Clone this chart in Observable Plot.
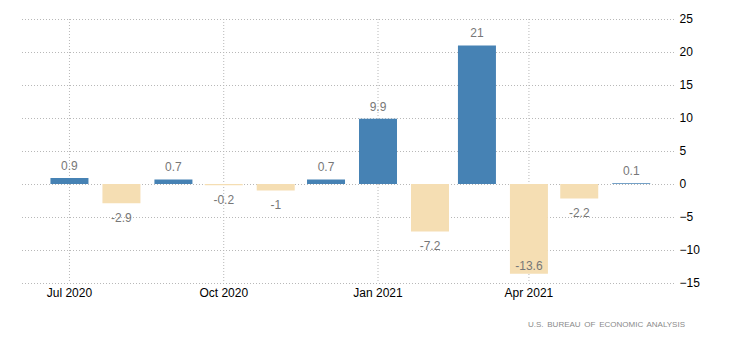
<!DOCTYPE html>
<html>
<head>
<meta charset="utf-8">
<script src="https://cdn.jsdelivr.net/npm/d3@7"></script>
<script src="https://cdn.jsdelivr.net/npm/@observablehq/plot@0.6"></script>
<style>
  html, body { margin: 0; padding: 0; background: #fff; }
  #wrap { position: relative; width: 730px; height: 341px; }
  #caption {
    position: absolute; right: 45px; top: 320px;
    font-family: "Liberation Sans", Arial, sans-serif; font-size: 8px;
    letter-spacing: 0px; word-spacing: 1.5px; color: #8a8a8a; white-space: nowrap;
  }
</style>
</head>
<body>
<div id="wrap">
  <div id="chart"></div>
  <div id="caption">U.S. BUREAU OF ECONOMIC ANALYSIS</div>
</div>
<script>
const months = ["2020-07-01","2020-08-01","2020-09-01","2020-10-01","2020-11-01","2020-12-01",
                "2021-01-01","2021-02-01","2021-03-01","2021-04-01","2021-05-01","2021-06-01"];
const values = [0.9, -2.9, 0.7, -0.2, -1, 0.7, 9.9, -7.2, 21, -13.6, -2.2, 0.1];
const xTickDates = ["2020-07-01","2020-10-01","2021-01-01","2021-04-01"];
const yTicks = [-15, -10, -5, 0, 5, 10, 15, 20, 25];
const xDomain = ["2020-06-03","2021-06-28"];

const data = months.map((m, i) => ({date: new Date(m), value: values[i]}));
const xt = xTickDates.map(d => new Date(d));
const fmt = d3.utcFormat("%b %Y");

const grid = {stroke: "#b8b8b8", strokeOpacity: 1, strokeDasharray: "1,2"};

const chart = Plot.plot({
  width: 730,
  height: 305,
  marginTop: 19,
  marginBottom: 22,
  marginLeft: 22,
  marginRight: 54,
  style: {fontFamily: "Liberation Sans, Arial, sans-serif", fontSize: "12px", background: "#fff"},
  x: {type: "utc", domain: xDomain.map(d => new Date(d))},
  y: {domain: [-15, 25]},
  marks: [
    Plot.gridY(yTicks, grid),
    Plot.gridX(xt, grid),
    Plot.ruleX(data, {x: "date", y1: 0, y2: "value", strokeWidth: 38,
      stroke: d => d.value >= 0 ? "#4682b4" : "#f5deb3"}),
    Plot.text(data.filter(d => d.value >= 0), {x: "date", y: "value", text: d => String(d.value),
      dy: -12.5, fill: "#777", fontSize: 12}),
    Plot.text(data.filter(d => d.value < 0 && d.value > -12), {x: "date", y: "value", text: d => String(d.value),
      dy: 14.5, fill: "#777", fontSize: 12}),
    Plot.text(data.filter(d => d.value <= -12), {x: "date", y: "value", text: d => String(d.value),
      dy: -8, fill: "#777", fontSize: 12}),
    Plot.axisY(yTicks, {anchor: "right", tickSize: 0, tickPadding: 3, label: null, fill: "#000"}),
    Plot.axisX(xt, {anchor: "bottom", tickSize: 0, tickPadding: 5, label: null, tickFormat: fmt, fill: "#000"})
  ]
});
document.getElementById("chart").appendChild(chart);
</script>
</body>
</html>
